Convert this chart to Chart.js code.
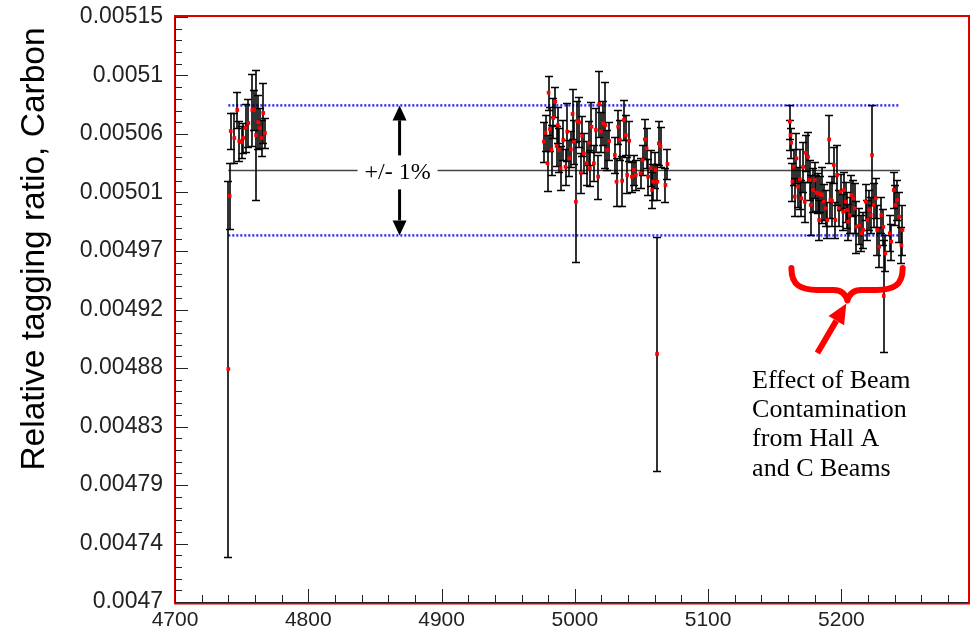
<!DOCTYPE html>
<html>
<head>
<meta charset="utf-8">
<script src="https://cdn.jsdelivr.net/npm/chart.js@4.4.1/dist/chart.umd.min.js"></script>
<style>
  html, body { margin: 0; padding: 0; background: #fff; }
  #wrap { position: relative; width: 973px; height: 633px; }
</style>
</head>
<body>
<div id="wrap"><canvas id="chart" width="973" height="633"></canvas></div>
<script>
// run ranges: first block (~4740-4768)
const runsA = [4740, 4741, 4741.8, 4744.5, 4746.7, 4748.2, 4750, 4751.2, 4753, 4755, 4758, 4759.3, 4760.8, 4762.5, 4763.8, 4765, 4766.2, 4767.5];
const ratioA = [0.0048792, 0.0050123, 0.0050623, 0.0050569, 0.0050785, 0.0050546, 0.0050538, 0.0050569, 0.0050646, 0.0050685, 0.0050785, 0.0050785, 0.0050592, 0.0050692, 0.0050646, 0.0050569, 0.0050762, 0.0050608];
const errA = [1.446e-4, 2.54e-5, 1.35e-5, 1.92e-5, 1.38e-5, 1.54e-5, 1.23e-5, 1.15e-5, 1.85e-5, 1.85e-5, 2.77e-5, 1.54e-5, 5.0e-5, 2.08e-5, 1.54e-5, 1.38e-5, 2.3e-5, 1.15e-5];

// second block (~4977-5070)
const runsB = [4976.8, 4978, 4979.5, 4980.3, 4981.3, 4982.5, 4983.8, 4985.3, 4986.3, 4987.3, 4988, 4989.3, 4991.3, 4993, 4994.3, 4995.8, 4997, 4998.3, 4999.5, 5000.8, 5001.8, 5003.3, 5004.5, 5005.5, 5006.8, 5008.8, 5010.5, 5011.3, 5012.5, 5014.3, 5015.8, 5017.5, 5018.3, 5019.5, 5021.3, 5023, 5024.3, 5025.8, 5030, 5031.3, 5032.5, 5033.8, 5035.5, 5036.8, 5038.3, 5039.3, 5040.8, 5042.8, 5044.3, 5045.8, 5049.3, 5050.8, 5052.5, 5053.8, 5055, 5056.8, 5058, 5058.8, 5060.5, 5061.7, 5062, 5063, 5064.3, 5068, 5069.5];
const ratioB = [0.0050541, 0.005061, 0.0050375, 0.0050918, 0.0050638, 0.0050477, 0.0050723, 0.0050848, 0.0050508, 0.0050669, 0.0050477, 0.0050336, 0.0050554, 0.0050348, 0.0050618, 0.0050413, 0.0050482, 0.0050754, 0.0050541, 0.0050079, 0.00507, 0.005069, 0.0050302, 0.0050585, 0.0050452, 0.0050375, 0.0050533, 0.0050336, 0.0050656, 0.0050375, 0.0050631, 0.0050272, 0.0050831, 0.0050618, 0.0050682, 0.0050669, 0.0050477, 0.0050546, 0.0050438, 0.0050233, 0.0050656, 0.0050554, 0.0050241, 0.0050708, 0.0050592, 0.0050285, 0.0050548, 0.0050272, 0.0050323, 0.0050285, 0.0050298, 0.00504, 0.0050559, 0.005049, 0.0050272, 0.0050336, 0.0050169, 0.0050233, 0.0050323, 0.0048908, 0.0050233, 0.0050528, 0.0050502, 0.0050208, 0.0050369];
const errB = [1.54e-5, 1.38e-5, 2.15e-5, 1.31e-5, 1.69e-5, 1.92e-5, 1.54e-5, 1.15e-5, 1.54e-5, 1.38e-5, 1.69e-5, 1.69e-5, 1.54e-5, 1.38e-5, 2.23e-5, 1.38e-5, 1.38e-5, 1.92e-5, 1.69e-5, 4.62e-5, 1.54e-5, 1.92e-5, 1.54e-5, 1.54e-5, 1.54e-5, 1.69e-5, 1.69e-5, 1.38e-5, 1.92e-5, 1.38e-5, 1.69e-5, 1.69e-5, 2.54e-5, 1.54e-5, 1.69e-5, 3.3e-5, 1.54e-5, 1.46e-5, 1.38e-5, 1.85e-5, 1.31e-5, 1.54e-5, 1.92e-5, 1.54e-5, 1.54e-5, 1.38e-5, 1.54e-5, 1.15e-5, 1.15e-5, 1.15e-5, 1.15e-5, 1.15e-5, 1.54e-5, 1.54e-5, 1.38e-5, 1.38e-5, 1.38e-5, 1.38e-5, 1.38e-5, 9.0e-5, 1.38e-5, 1.69e-5, 1.54e-5, 1.31e-5, 1.15e-5];

// third block (~5161-5246), contaminated
const runsC = [5161.3, 5161.8, 5162.3, 5163.3, 5164.3, 5165, 5166.3, 5167.5, 5168.8, 5170, 5171.3, 5172.5, 5173.3, 5175, 5176.3, 5177, 5178.8, 5180, 5181.3, 5182.5, 5183.3, 5184.3, 5185.5, 5186.8, 5188.3, 5189.5, 5190.8, 5191.8, 5193, 5194.3, 5195.5, 5196.8, 5198, 5199.5, 5201.3, 5202, 5203.3, 5204.3, 5205, 5206.3, 5207.5, 5208.8, 5210, 5211.3, 5213.3, 5215, 5216.3, 5218.3, 5219.5, 5220.8, 5222, 5223, 5224.3, 5225.8, 5226.8, 5228.3, 5230, 5231.5, 5231.8, 5233, 5236.3, 5237.5, 5239.3, 5240.5, 5241.8, 5243.3, 5245, 5245.8];
const ratioC = [0.0050695, 0.0050592, 0.0050533, 0.0050233, 0.0050348, 0.0050118, 0.0050413, 0.0050195, 0.0050252, 0.0050105, 0.0050348, 0.0050079, 0.0050456, 0.0050425, 0.0050246, 0.0050054, 0.0050169, 0.0050246, 0.0050148, 0.0050144, 0.0049938, 0.0050138, 0.0050131, 0.0050079, 0.0050028, 0.0049938, 0.0050559, 0.0050092, 0.0050085, 0.0050362, 0.0049938, 0.0050285, 0.0050028, 0.0050156, 0.0050002, 0.0050169, 0.0050079, 0.0050015, 0.0049925, 0.0049977, 0.0050131, 0.0050105, 0.0050028, 0.0049887, 0.0049895, 0.0049836, 0.0049862, 0.0050079, 0.0049938, 0.0050015, 0.0049977, 0.0050438, 0.0050054, 0.0050105, 0.0049862, 0.0049733, 0.0049977, 0.0049887, 0.0049354, 0.0049682, 0.0049836, 0.0049772, 0.0050169, 0.0050054, 0.0050092, 0.0049964, 0.0049746, 0.0049862];
const errC = [1.31e-5, 1.15e-5, 1.15e-5, 1.46e-5, 1.38e-5, 1.46e-5, 1.92e-5, 1.54e-5, 2.3e-5, 1.38e-5, 1.92e-5, 1.54e-5, 1.38e-5, 1.92e-5, 1.54e-5, 2.3e-5, 1.69e-5, 1.38e-5, 1.38e-5, 1.54e-5, 1.54e-5, 1.38e-5, 2.15e-5, 1.38e-5, 1.38e-5, 1.38e-5, 1.85e-5, 1.38e-5, 1.92e-5, 1.38e-5, 1.38e-5, 2.3e-5, 1.38e-5, 1.38e-5, 1.38e-5, 1.38e-5, 1.54e-5, 1.38e-5, 1.38e-5, 1.38e-5, 1.54e-5, 1.38e-5, 1.92e-5, 2.0e-5, 1.38e-5, 1.38e-5, 1.38e-5, 1.38e-5, 1.54e-5, 1.54e-5, 1.38e-5, 3.85e-5, 1.69e-5, 1.54e-5, 1.92e-5, 1.54e-5, 1.38e-5, 1.38e-5, 4.3e-5, 1.38e-5, 1.38e-5, 1.38e-5, 1.38e-5, 1.54e-5, 1.54e-5, 1.92e-5, 1.38e-5, 1.92e-5];

// reference lines: mean and +/- 1%
const meanRatio = 0.005032;
const bandUpper = 0.005082;
const bandLower = 0.004982;
const lineRuns = [4740, 5244];

const xTickValues = [4700, 4800, 4900, 5000, 5100, 5200];
const xTickLabels = ['4700', '4800', '4900', '5000', '5100', '5200'];
const yTickValues = [0.0047, 0.004745, 0.00479, 0.004835, 0.00488, 0.004925, 0.00497, 0.005015, 0.00506, 0.005105, 0.00515];
const yTickLabels = ['0.0047', '0.00474', '0.00479', '0.00483', '0.00488', '0.00492', '0.00497', '0.00501', '0.00506', '0.0051', '0.00515'];

const noteLines = ['Effect of Beam', 'Contamination', 'from Hall A', 'and C Beams'];

const allRuns = [...runsA, ...runsB, ...runsC];
const allRatio = [...ratioA, ...ratioB, ...ratioC];
const allErr = [...errA, ...errB, ...errC];
const points = allRuns.map((r, i) => ({ x: r, y: allRatio[i] }));

const errorBars = {
  id: 'errorBars',
  beforeDatasetDraw(chart, args) {
    if (args.index !== 0) return;
    const { ctx, chartArea: a } = chart;
    const xs = chart.scales.x, ys = chart.scales.y;
    ctx.save();
    ctx.beginPath();
    ctx.rect(a.left, a.top, a.right - a.left, a.bottom - a.top);
    ctx.clip();
    ctx.strokeStyle = '#000';
    ctx.lineWidth = 1.6;
    allRuns.forEach((r, i) => {
      const px = Math.round(xs.getPixelForValue(r));
      const top = Math.round(ys.getPixelForValue(allRatio[i] + allErr[i])) + 0.5;
      const bot = Math.round(ys.getPixelForValue(allRatio[i] - allErr[i])) + 0.5;
      ctx.beginPath();
      ctx.moveTo(px, top); ctx.lineTo(px, bot);
      ctx.moveTo(px - 4, top); ctx.lineTo(px + 4, top);
      ctx.moveTo(px - 4, bot); ctx.lineTo(px + 4, bot);
      ctx.stroke();
    });
    ctx.restore();
  }
};

function arrow(ctx, x1, y1, x2, y2, w, headLen, headHalf, color) {
  const dx = x2 - x1, dy = y2 - y1, len = Math.hypot(dx, dy);
  const ux = dx / len, uy = dy / len;
  const bx = x2 - ux * headLen, by = y2 - uy * headLen;
  ctx.strokeStyle = color; ctx.fillStyle = color;
  ctx.lineWidth = w;
  ctx.beginPath(); ctx.moveTo(x1, y1); ctx.lineTo(bx, by); ctx.stroke();
  ctx.beginPath();
  ctx.moveTo(x2, y2);
  ctx.lineTo(bx - uy * headHalf, by + ux * headHalf);
  ctx.lineTo(bx + uy * headHalf, by - ux * headHalf);
  ctx.closePath(); ctx.fill();
}

const decorations = {
  id: 'decorations',
  afterDraw(chart) {
    const { ctx, chartArea: a } = chart;
    const xs = chart.scales.x, ys = chart.scales.y;
    ctx.save();

    // frame
    ctx.strokeStyle = '#e00000';
    ctx.lineWidth = 2;
    ctx.strokeRect(a.left, a.top - 1, a.right - a.left + 1, a.bottom - a.top + 2.5);
    ctx.strokeStyle = '#222';
    ctx.lineWidth = 1;
    ctx.beginPath();
    ctx.moveTo(a.left + 0.5, a.top); ctx.lineTo(a.left + 0.5, a.bottom + 0.5);
    ctx.lineTo(a.right, a.bottom + 0.5);
    ctx.stroke();

    // tick marks (major + minor), inward
    ctx.beginPath();
    for (let i = 0; i < yTickValues.length; i++) {
      const y = Math.round(ys.getPixelForValue(yTickValues[i])) + 0.5;
      ctx.moveTo(a.left, y); ctx.lineTo(a.left + 13, y);
      if (i < yTickValues.length - 1) {
        const step = (yTickValues[i + 1] - yTickValues[i]) / 5;
        for (let k = 1; k < 5; k++) {
          const ym = Math.round(ys.getPixelForValue(yTickValues[i] + k * step)) + 0.5;
          ctx.moveTo(a.left, ym); ctx.lineTo(a.left + 7, ym);
        }
      }
    }
    for (let v = 4700; v <= xs.max; v += 20) {
      const x = Math.round(xs.getPixelForValue(v)) + 0.5;
      const major = (v % 100) === 0;
      ctx.moveTo(x, a.bottom); ctx.lineTo(x, a.bottom - (major ? 13 : 7));
    }
    ctx.stroke();

    // y-axis title
    ctx.save();
    ctx.translate(35, 249);
    ctx.rotate(-Math.PI / 2);
    ctx.fillStyle = '#000';
    ctx.font = '33.5px "Liberation Sans", Arial, sans-serif';
    ctx.textAlign = 'center';
    ctx.textBaseline = 'middle';
    ctx.fillText('Relative tagging ratio, Carbon', 0, 0);
    ctx.restore();

    // +/- 1% label on the mean line
    const lx = xs.getPixelForValue(4868.5);
    const my = ys.getPixelForValue(meanRatio);
    ctx.fillStyle = '#fff';
    ctx.fillRect(lx - 42, my - 14, 80, 28);
    ctx.fillStyle = '#000';
    ctx.font = '24px "Liberation Serif", "Times New Roman", serif';
    ctx.textAlign = 'center';
    ctx.textBaseline = 'alphabetic';
    ctx.fillText('+/- 1%', lx - 2, my + 9);

    arrow(ctx, lx, my - 15, lx, ys.getPixelForValue(bandUpper), 3, 15, 7, '#000');
    arrow(ctx, lx, my + 19, lx, ys.getPixelForValue(bandLower), 3, 15, 7, '#000');

    // red brace under the contaminated block
    const bl = xs.getPixelForValue(5162.5), br = xs.getPixelForValue(5246);
    const bTop = ys.getPixelForValue(0.004957);
    const tipX = xs.getPixelForValue(5204.5), tipY = ys.getPixelForValue(0.004932);
    const flat = bTop + 22;
    ctx.strokeStyle = '#ff0000';
    ctx.lineWidth = 6;
    ctx.lineCap = 'round';
    ctx.lineJoin = 'round';
    ctx.beginPath();
    ctx.moveTo(bl, bTop);
    ctx.bezierCurveTo(bl, bTop + 18, bl + 10, flat, bl + 26, flat);
    ctx.lineTo(tipX - 14, flat);
    ctx.quadraticCurveTo(tipX - 3, flat, tipX, tipY);
    ctx.moveTo(br, bTop);
    ctx.bezierCurveTo(br, bTop + 18, br - 10, flat, br - 26, flat);
    ctx.lineTo(tipX + 14, flat);
    ctx.quadraticCurveTo(tipX + 3, flat, tipX, tipY);
    ctx.stroke();
    ctx.lineCap = 'butt';
    arrow(ctx, xs.getPixelForValue(5182), ys.getPixelForValue(0.0048916), tipX - 1, tipY + 3, 6, 20, 9, '#ff0000');

    // note text
    ctx.fillStyle = '#000';
    ctx.font = '26px "Liberation Serif", "Times New Roman", serif';
    ctx.textAlign = 'left';
    const nx = xs.getPixelForValue(5133);
    const baselines = [388, 417, 446, 476];
    noteLines.forEach((t, i) => ctx.fillText(t, nx, baselines[i]));

    ctx.restore();
  }
};

new Chart(document.getElementById('chart').getContext('2d'), {
  type: 'scatter',
  data: {
    datasets: [
      {
        data: points,
        order: 1,
        pointStyle: 'rect',
        pointRadius: 2.6,
        pointBackgroundColor: '#ff0000',
        pointBorderColor: '#ff0000',
        pointBorderWidth: 0,
        showLine: false
      },
      {
        type: 'line',
        data: lineRuns.map(r => ({ x: r, y: meanRatio })),
        order: 3,
        borderColor: '#444',
        borderWidth: 1.5,
        pointRadius: 0
      },
      {
        type: 'line',
        data: lineRuns.map(r => ({ x: r, y: bandUpper })),
        order: 2,
        borderColor: '#2a2aff',
        borderWidth: 2.5,
        borderDash: [2, 2],
        pointRadius: 0
      },
      {
        type: 'line',
        data: lineRuns.map(r => ({ x: r, y: bandLower })),
        order: 2,
        borderColor: '#2a2aff',
        borderWidth: 2.5,
        borderDash: [2, 2],
        pointRadius: 0
      }
    ]
  },
  options: {
    responsive: false,
    devicePixelRatio: 1,
    animation: false,
    layout: { padding: { left: 0, right: 5, top: 17, bottom: 0 } },
    plugins: { legend: { display: false }, tooltip: { enabled: false } },
    scales: {
      x: {
        type: 'linear',
        min: 4700,
        max: 5295,
        afterBuildTicks: s => { s.ticks = xTickValues.map(v => ({ value: v })); },
        afterFit: s => { s.height = 31; s.paddingLeft = 0; s.paddingRight = 0; },
        grid: { display: false, drawTicks: false },
        border: { display: false },
        ticks: {
          autoSkip: false, maxRotation: 0, padding: 6, color: '#222',
          font: { family: 'Liberation Sans', size: 21 },
          callback: (v, i) => xTickLabels[i]
        }
      },
      y: {
        type: 'linear',
        min: 0.0047,
        max: 0.00515,
        afterBuildTicks: s => { s.ticks = yTickValues.map(v => ({ value: v })); },
        afterFit: s => { s.width = 175; s.paddingTop = 0; s.paddingBottom = 0; },
        grid: { display: false, drawTicks: false },
        border: { display: false },
        ticks: {
          autoSkip: false, padding: 12, color: '#222',
          font: { family: 'Liberation Sans', size: 23 },
          callback: (v, i) => yTickLabels[i]
        }
      }
    }
  },
  plugins: [errorBars, decorations]
});
</script>
</body>
</html>
